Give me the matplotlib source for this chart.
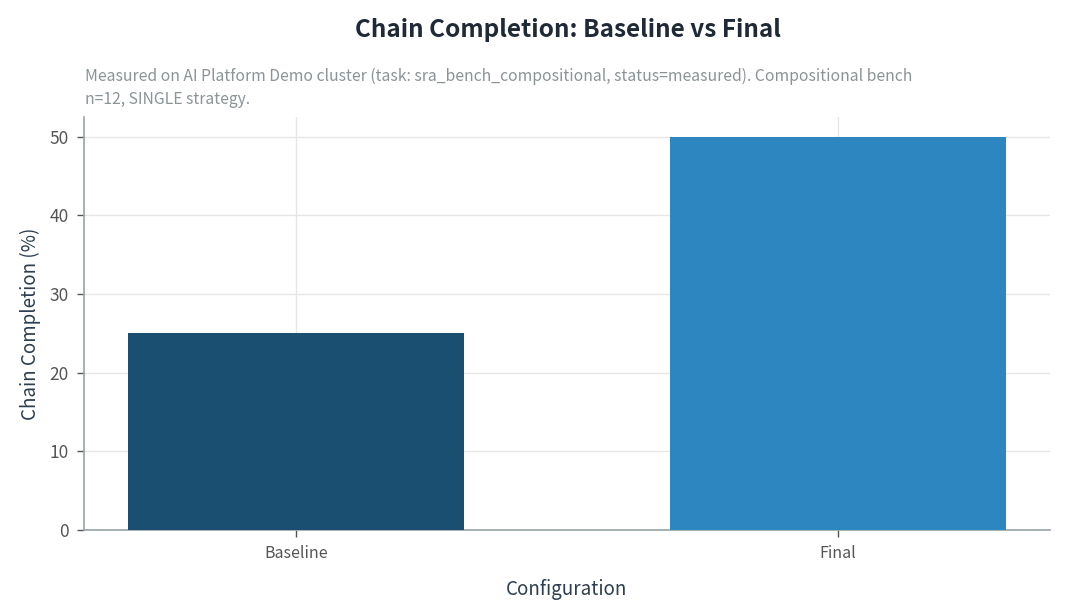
import matplotlib
matplotlib.use("Agg")
import matplotlib.pyplot as plt

categories = ["Baseline", "Final"]
values = [25, 50]
colors = ["#1B4F72", "#2E86C1"]

plt.rcParams['font.family'] = ['Noto Sans CJK KR', 'DejaVu Sans']

fig = plt.figure(figsize=(10.65, 6.15), dpi=100)
ax = fig.add_axes([84/1065, 1-530/615, (1050-84)/1065, (530-117)/615])

x = list(range(len(categories)))
ax.bar(x, values, width=0.62, color=colors, zorder=3)
ax.set_xticks(x)
ax.set_xticklabels(categories)
ax.set_yticks([0, 10, 20, 30, 40, 50])

ax.grid(True, color="#e6e6e6", linewidth=1, zorder=0)
ax.set_axisbelow(True)
for s in ["top", "right"]:
    ax.spines[s].set_visible(False)
for s in ["left", "bottom"]:
    ax.spines[s].set_color("#95a5a6")
    ax.spines[s].set_linewidth(1.2)
ax.tick_params(colors="#555555", labelsize=12.5, length=5, width=1, pad=6)
ax.tick_params(axis="x", labelsize=11.5)

ax.set_xlabel("Configuration", fontsize=13.5, color="#2c3e50", labelpad=12)
ax.set_ylabel("Chain Completion (%)", fontsize=13.5, color="#2c3e50", labelpad=6)

fig.text(0.533, 1-30/615, "Chain Completion: Baseline vs Final", ha="center", va="center",
         fontsize=17.5, fontweight="bold", color="#1f2a36")
fig.text(85/1065, 1-88/615, "Measured on AI Platform Demo cluster (task: sra_bench_compositional, status=measured). Compositional bench\nn=12, SINGLE strategy.",
         ha="left", va="center", fontsize=11.3, color="#8a9396", linespacing=1.45)

fig.savefig("out.png", dpi=100)
